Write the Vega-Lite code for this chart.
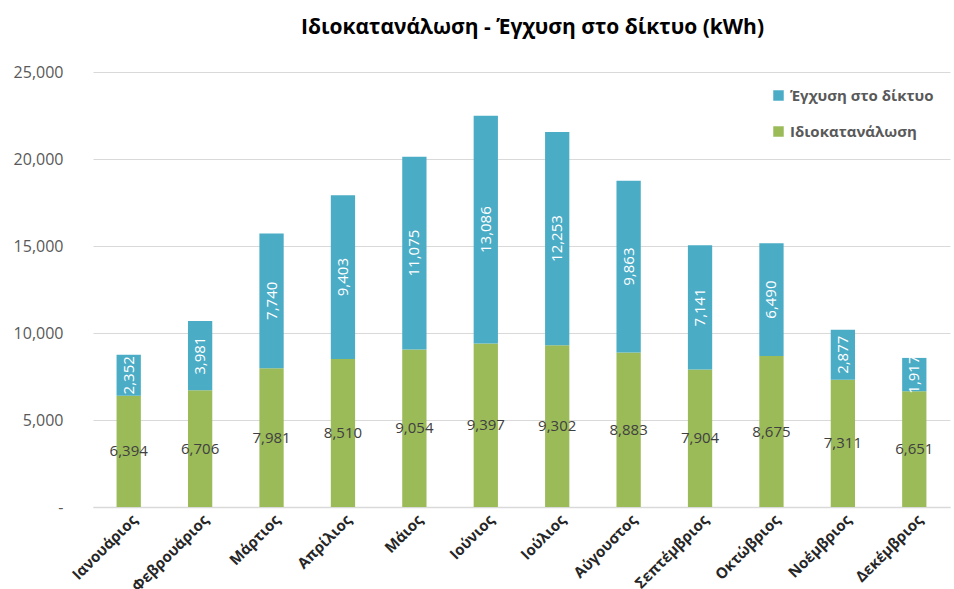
{
  "$schema": "https://vega.github.io/schema/vega-lite/v6.json",
  "width": 857,
  "height": 435,
  "autosize": {"type": "none"},
  "padding": {"left": 93, "top": 72, "right": 4, "bottom": 82},
  "background": "white",
  "title": {
    "text": "Ιδιοκατανάλωση - Έγχυση στο δίκτυο (kWh)",
    "font": "Open Sans",
    "fontSize": 21,
    "fontWeight": "bold",
    "color": "#000000",
    "anchor": "middle",
    "dx": 11,
    "offset": 26
  },
  "config": {
    "view": {"stroke": null},
    "font": "Open Sans"
  },
  "data": {
    "values": [
      {"month": "Ιανουάριος", "series": "Ιδιοκατανάλωση", "value": 6394},
      {"month": "Ιανουάριος", "series": "Έγχυση στο δίκτυο", "value": 2352},
      {"month": "Φεβρουάριος", "series": "Ιδιοκατανάλωση", "value": 6706},
      {"month": "Φεβρουάριος", "series": "Έγχυση στο δίκτυο", "value": 3981},
      {"month": "Μάρτιος", "series": "Ιδιοκατανάλωση", "value": 7981},
      {"month": "Μάρτιος", "series": "Έγχυση στο δίκτυο", "value": 7740},
      {"month": "Απρίλιος", "series": "Ιδιοκατανάλωση", "value": 8510},
      {"month": "Απρίλιος", "series": "Έγχυση στο δίκτυο", "value": 9403},
      {"month": "Μάιος", "series": "Ιδιοκατανάλωση", "value": 9054},
      {"month": "Μάιος", "series": "Έγχυση στο δίκτυο", "value": 11075},
      {"month": "Ιούνιος", "series": "Ιδιοκατανάλωση", "value": 9397},
      {"month": "Ιούνιος", "series": "Έγχυση στο δίκτυο", "value": 13086},
      {"month": "Ιούλιος", "series": "Ιδιοκατανάλωση", "value": 9302},
      {"month": "Ιούλιος", "series": "Έγχυση στο δίκτυο", "value": 12253},
      {"month": "Αύγουστος", "series": "Ιδιοκατανάλωση", "value": 8883},
      {"month": "Αύγουστος", "series": "Έγχυση στο δίκτυο", "value": 9863},
      {"month": "Σεπτέμβριος", "series": "Ιδιοκατανάλωση", "value": 7904},
      {"month": "Σεπτέμβριος", "series": "Έγχυση στο δίκτυο", "value": 7141},
      {"month": "Οκτώβριος", "series": "Ιδιοκατανάλωση", "value": 8675},
      {"month": "Οκτώβριος", "series": "Έγχυση στο δίκτυο", "value": 6490},
      {"month": "Νοέμβριος", "series": "Ιδιοκατανάλωση", "value": 7311},
      {"month": "Νοέμβριος", "series": "Έγχυση στο δίκτυο", "value": 2877},
      {"month": "Δεκέμβριος", "series": "Ιδιοκατανάλωση", "value": 6651},
      {"month": "Δεκέμβριος", "series": "Έγχυση στο δίκτυο", "value": 1917}
    ]
  },
  "transform": [
    {"stack": "value", "groupby": ["month"], "sort": [{"field": "series", "order": "descending"}], "as": ["v0", "v1"]},
    {"calculate": "(datum.v0 + datum.v1) / 2", "as": "vmid"}
  ],
  "encoding": {
    "x": {
      "field": "month",
      "type": "nominal",
      "sort": null,
      "scale": {"paddingInner": 0.66, "paddingOuter": 0.33},
      "axis": {
        "title": null,
        "labelAngle": -45,
        "labelAlign": "right",
        "labelBaseline": "middle",
        "labelFontSize": 15,
        "labelFontWeight": "bold",
        "labelColor": "#262626",
        "labelPadding": 10,
        "labelOffset": 6,
        "ticks": false,
        "domainColor": "#D9D9D9",
        "domainWidth": 1.5
      }
    }
  },
  "layer": [
    {
      "mark": {"type": "bar"},
      "encoding": {
        "y": {
          "field": "v0",
          "type": "quantitative",
          "scale": {"domain": [0, 25000], "nice": false},
          "axis": {
            "title": null,
            "values": [0, 5000, 10000, 15000, 20000, 25000],
            "labelExpr": "datum.value == 0 ? '-' : format(datum.value, ',')",
            "labelFontSize": 16,
            "labelColor": "#595959",
            "labelPadding": 30,
            "ticks": false,
            "domain": false,
            "gridColor": "#D9D9D9",
            "gridWidth": 1
          }
        },
        "y2": {"field": "v1"},
        "color": {
          "field": "series",
          "type": "nominal",
          "scale": {"domain": ["Έγχυση στο δίκτυο", "Ιδιοκατανάλωση"], "range": ["#4BACC6", "#9BBB59"]},
          "legend": {
            "title": null,
            "orient": "none",
            "legendX": 678,
            "legendY": 16,
            "symbolType": "square",
            "symbolSize": 110,
            "symbolStrokeWidth": 0,
            "labelFontSize": 15,
            "labelFontWeight": "bold",
            "labelColor": "#595959",
            "labelOffset": 4,
            "rowPadding": 20
          }
        }
      }
    },
    {
      "transform": [{"filter": "datum.series == 'Ιδιοκατανάλωση'"}],
      "mark": {"type": "text", "fontSize": 15, "color": "#404040", "baseline": "middle", "align": "center"},
      "encoding": {
        "y": {"field": "vmid", "type": "quantitative"},
        "text": {"field": "value", "type": "quantitative", "format": ","}
      }
    },
    {
      "transform": [{"filter": "datum.series == 'Έγχυση στο δίκτυο'"}],
      "mark": {"type": "text", "fontSize": 15, "color": "#FFFFFF", "baseline": "middle", "align": "center", "angle": 270},
      "encoding": {
        "y": {"field": "vmid", "type": "quantitative"},
        "text": {"field": "value", "type": "quantitative", "format": ","}
      }
    }
  ]
}
